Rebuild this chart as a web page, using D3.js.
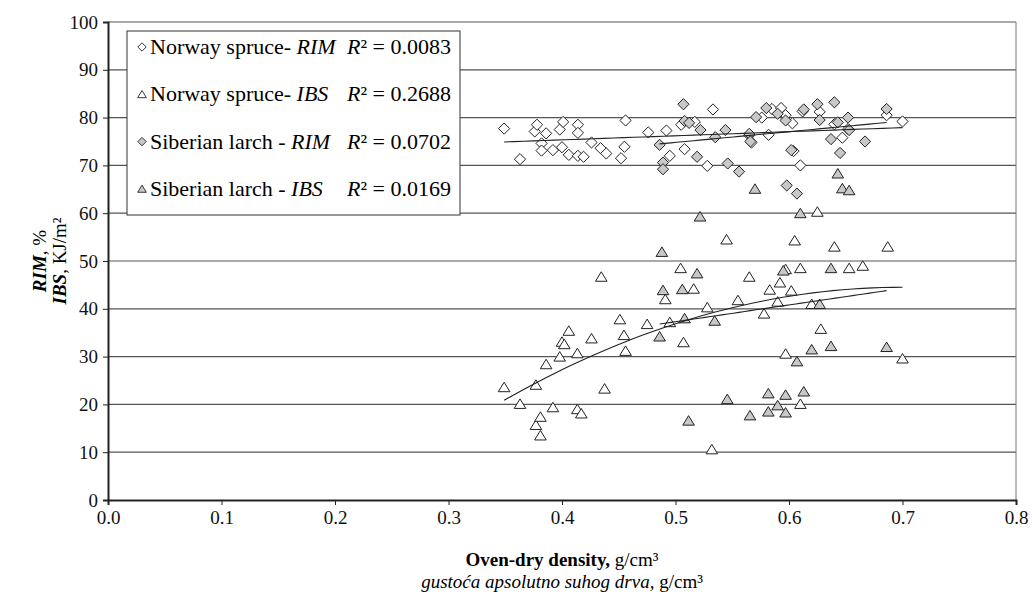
<!DOCTYPE html>
<html>
<head>
<meta charset="utf-8">
<script src="https://cdn.jsdelivr.net/npm/d3@7"></script>
<style>
  body { margin: 0; background: #fff; }
</style>
</head>
<body>
<div id="chart"></div>
<script>
// density (g/cm3), value
var spruceRim = [
  [0.349,77.7],[0.363,71.3],[0.376,77.1],[0.378,78.5],[0.382,74.6],[0.382,73.1],[0.386,76.7],
  [0.392,73.2],[0.398,77.5],[0.400,73.8],[0.401,79.1],[0.406,72.2],[0.414,78.5],[0.414,76.8],
  [0.414,72.0],[0.419,71.8],[0.426,74.8],[0.434,73.6],[0.439,72.5],[0.452,71.5],[0.455,73.9],
  [0.456,79.4],[0.476,76.9],[0.492,77.3],[0.495,72.0],[0.505,78.5],[0.508,73.4],[0.517,79.1],
  [0.528,69.9],[0.533,81.7],[0.565,76.3],[0.567,74.8],[0.576,80.0],[0.582,76.4],[0.585,81.8],
  [0.593,82.0],[0.597,80.5],[0.603,78.8],[0.604,73.0],[0.610,70.0],[0.612,81.3],[0.627,81.2],
  [0.640,78.6],[0.647,75.8],[0.652,77.6],[0.686,80.5],[0.700,79.2]
];
var spruceIbs = [
  [0.349,23.6],[0.363,20.1],[0.377,24.1],[0.377,15.7],[0.381,17.4],[0.381,13.5],[0.386,28.4],
  [0.392,19.4],[0.398,30.0],[0.400,33.1],[0.402,32.6],[0.406,35.4],[0.4135,30.7],[0.4135,19.0],
  [0.417,18.1],[0.426,33.8],[0.4346,46.7],[0.4375,23.3],[0.451,37.8],[0.4546,34.5],[0.456,31.2],
  [0.475,36.8],[0.491,42.0],[0.495,37.2],[0.5045,48.5],[0.507,33.0],[0.516,44.2],[0.528,40.3],
  [0.532,10.6],[0.545,54.5],[0.555,41.8],[0.565,46.7],[0.578,39.0],[0.583,44.0],[0.590,41.5],
  [0.592,45.5],[0.597,48.3],[0.602,43.8],[0.605,54.3],[0.610,48.5],[0.620,41.0],[0.625,60.3],
  [0.628,35.8],[0.640,53.0],[0.653,48.5],[0.665,49.0],[0.687,53.0],[0.700,29.6],[0.610,20.1],
  [0.597,30.6]
];
var larchRim = [
  [0.486,74.3],[0.489,70.6],[0.489,69.2],[0.507,82.8],[0.508,79.3],[0.512,78.9],[0.519,71.8],
  [0.522,77.4],[0.535,75.9],[0.544,77.4],[0.546,70.4],[0.556,68.7],[0.565,76.6],[0.566,75.0],
  [0.571,80.1],[0.580,82.0],[0.590,80.8],[0.597,79.4],[0.598,65.8],[0.602,73.2],[0.607,64.1],
  [0.613,81.7],[0.625,82.8],[0.627,79.5],[0.640,83.2],[0.637,75.5],[0.643,79.0],[0.645,72.6],
  [0.652,80.0],[0.653,77.4],[0.667,75.0],[0.686,81.8]
];
var larchIbs = [
  [0.486,34.2],[0.488,51.9],[0.489,43.9],[0.506,44.1],[0.508,38.0],[0.5115,16.6],[0.519,47.4],
  [0.5216,59.3],[0.5345,37.5],[0.5456,21.1],[0.5656,17.7],[0.570,65.1],[0.5818,22.3],[0.5818,18.5],
  [0.590,19.8],[0.595,48.0],[0.597,18.3],[0.597,22.0],[0.607,29.0],[0.610,60.0],[0.613,22.7],
  [0.620,31.5],[0.627,41.0],[0.637,48.5],[0.637,32.2],[0.643,68.3],[0.647,65.2],[0.653,64.8],
  [0.686,32.0]
];
// trend line coefficients c0 + c1*x + c2*x^2
var trendSpruceRim = [71.92, 8.55, 0];
var trendSpruceIbs = [-49.86, 270.1, -193.3];
var trendLarchRim = [63.61, 22.4, 0];
var trendLarchIbs = [19.8, 35.0, 0];

var seriesNames = ['Norway spruce- ', 'Norway spruce- ', 'Siberian larch - ', 'Siberian larch - '];
var seriesProps = ['RIM', 'IBS', 'RIM', 'IBS'];
var r2Labels = ['0.0083', '0.2688', '0.0702', '0.0169'];
var xTicks = [0, 0.1, 0.2, 0.3, 0.4, 0.5, 0.6, 0.7, 0.8];
var yTicks = [0, 10, 20, 30, 40, 50, 60, 70, 80, 90, 100];

var W = 1033, H = 598
  , m = { left: 108, right: 17, top: 22, bottom: 98 }
  , serif = '"Liberation Serif", "Times New Roman", serif'
  ;

var svg = d3.select('#chart').append('svg').attr('width', W).attr('height', H)
  .attr('font-family', serif).style('font-family', serif);

var x = d3.scaleLinear().domain([0, 0.8]).range([m.left, W - m.right]);
var y = d3.scaleLinear().domain([0, 100]).range([H - m.bottom, m.top]);

// grid
svg.append('g').selectAll('line').data(yTicks.slice(1)).enter().append('line')
  .attr('x1', x(0)).attr('x2', x(0.8))
  .attr('y1', function (d) { return y(d); }).attr('y2', function (d) { return y(d); })
  .attr('stroke', '#555').attr('stroke-width', 1.2);
svg.append('line').attr('x1', x(0.8)).attr('x2', x(0.8)).attr('y1', y(0)).attr('y2', y(100))
  .attr('stroke', '#777').attr('stroke-width', 1);

// axes
var gx = svg.append('g').attr('transform', 'translate(0,' + y(0) + ')')
  .call(d3.axisBottom(x).tickValues(xTicks).tickFormat(d3.format('.1f')).tickSize(5).tickPadding(6));
var gy = svg.append('g').attr('transform', 'translate(' + x(0) + ',0)')
  .call(d3.axisLeft(y).tickValues(yTicks).tickSize(5).tickPadding(5));
[gx, gy].forEach(function (g) {
  g.attr('font-family', serif).attr('font-size', 19);
  g.select('.domain').attr('stroke', '#222').attr('stroke-width', 2);
  g.selectAll('.tick line').attr('stroke', '#222');
  g.selectAll('.tick text').style('font-family', serif).style('font-size', '19px').attr('fill', '#111');
});

// trend lines
function trendPath(pts, c) {
  var xs = d3.extent(pts, function (d) { return d[0]; })
    , line = d3.line().x(function (d) { return x(d); })
               .y(function (d) { return y(c[0] + c[1] * d + c[2] * d * d); })
    ;
  return line(d3.range(0, 41).map(function (i) { return xs[0] + (xs[1] - xs[0]) * i / 40; }));
}

// markers
var diamond = 'M0,-5.6L5.6,0L0,5.6L-5.6,0Z'
  , triangle = 'M0,-5L5.8,4.5L-5.8,4.5Z'
  ;
function drawSeries(pts, shape, fill) {
  svg.append('g').selectAll('path').data(pts).enter().append('path')
    .attr('d', shape)
    .attr('transform', function (d) { return 'translate(' + x(d[0]) + ',' + y(d[1]) + ')'; })
    .attr('fill', fill).attr('stroke', '#222').attr('stroke-width', 1);
}
drawSeries(spruceRim, diamond, '#fff');
drawSeries(spruceIbs, triangle, '#fff');
drawSeries(larchRim, diamond, '#c8c8c8');
drawSeries(larchIbs, triangle, '#c8c8c8');

[[spruceRim, trendSpruceRim], [spruceIbs, trendSpruceIbs], [larchRim, trendLarchRim], [larchIbs, trendLarchIbs]]
  .forEach(function (s) {
    svg.append('path').attr('d', trendPath(s[0], s[1]))
      .attr('fill', 'none').attr('stroke', '#222').attr('stroke-width', 1.1);
  });

// legend
var lg = svg.append('g');
lg.append('rect').attr('x', 127).attr('y', 31).attr('width', 333).attr('height', 184)
  .attr('fill', '#fff').attr('stroke', '#333').attr('stroke-width', 1);
var legShapes = [diamond, triangle, diamond, triangle]
  , legFills = ['#fff', '#fff', '#c8c8c8', '#c8c8c8']
  ;
seriesNames.forEach(function (name, i) {
  var cy = 47 + i * 47.3;
  lg.append('path').attr('d', legShapes[i])
    .attr('transform', 'translate(142,' + cy + ') scale(0.75)')
    .attr('fill', legFills[i]).attr('stroke', '#222').attr('stroke-width', 1.2);
  var t = lg.append('text').attr('x', 150).attr('y', cy + 7).style('font-size', '22px');
  t.append('tspan').text(name);
  t.append('tspan').style('font-style', 'italic').text(seriesProps[i]);
  var r = lg.append('text').attr('x', 347).attr('y', cy + 7).style('font-size', '22px');
  r.append('tspan').style('font-style', 'italic').text('R');
  r.append('tspan').text('² = ' + r2Labels[i]);
});

// axis titles
var xt = svg.append('text').attr('x', (x(0) + x(0.8)) / 2).attr('y', 566)
  .attr('text-anchor', 'middle').style('font-size', '19px');
xt.append('tspan').style('font-weight', 'bold').text('Oven-dry density,');
xt.append('tspan').text(' g/cm³');
var xt2 = svg.append('text').attr('x', (x(0) + x(0.8)) / 2).attr('y', 588)
  .attr('text-anchor', 'middle').style('font-size', '19px');
xt2.append('tspan').style('font-style', 'italic').text('gustoća apsolutno suhog drva,');
xt2.append('tspan').text(' g/cm³');

var yt = svg.append('text').attr('transform', 'translate(46,' + y(50) + ') rotate(-90)')
  .attr('text-anchor', 'middle').style('font-size', '19px');
yt.append('tspan').style('font-weight', 'bold').style('font-style', 'italic').text('RIM');
yt.append('tspan').text(', %');
var yt2 = svg.append('text').attr('transform', 'translate(66,' + y(50) + ') rotate(-90)')
  .attr('text-anchor', 'middle').style('font-size', '19px');
yt2.append('tspan').style('font-weight', 'bold').style('font-style', 'italic').text('IBS');
yt2.append('tspan').text(', KJ/m²');
</script>
</body>
</html>
